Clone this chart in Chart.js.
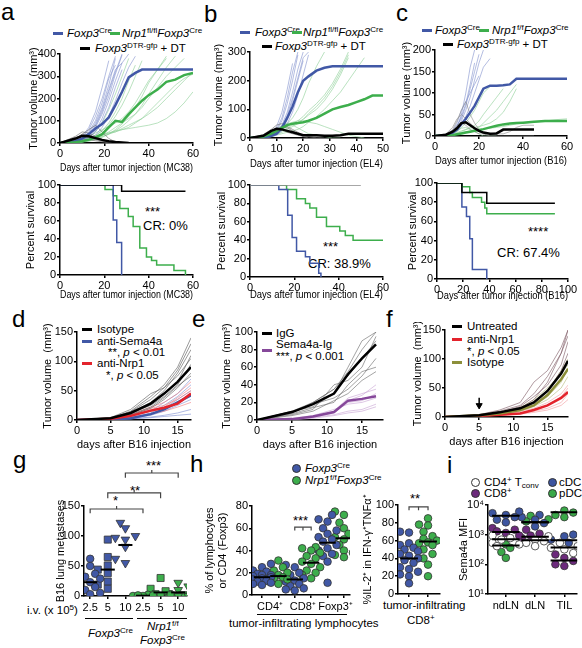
<!DOCTYPE html>
<html>
<head>
<meta charset="utf-8">
<script src="https://cdn.jsdelivr.net/npm/chart.js@4.4.1/dist/chart.umd.min.js"></script>
<style>
  body { margin: 0; width: 582px; height: 648px; position: relative; overflow: hidden; background: #fff;
         font-family: "Liberation Sans", Arial, Helvetica, sans-serif; color: #000; }
  canvas { position: absolute; }
  .t { position: absolute; white-space: nowrap; font-size: 11.5px; line-height: 13px; transform: translateY(-50%); }
  .big { font-size: 13px; }
  .p { position: absolute; font-size: 24px; line-height: 24px; }
  .s { position: absolute; height: 3px; width: 10px; margin-top: -1.5px; }
  .dot { position: absolute; width: 7px; height: 7px; border-radius: 50%; margin: -4px 0 0 -4px; border: 0.8px solid #333; }
  .u { position: absolute; height: 1px; background: #000; }
  sup, sub { font-size: 70%; line-height: 0; position: relative; vertical-align: baseline; }
  sup { top: -0.5em; } sub { top: 0.3em; }
</style>
</head>
<body>
<!-- panel letters -->
<div class="p" style="left:1px;top:0px">a</div>
<div class="p" style="left:204px;top:2px">b</div>
<div class="p" style="left:396px;top:1px">c</div>
<div class="p" style="left:12px;top:307px">d</div>
<div class="p" style="left:192px;top:307px">e</div>
<div class="p" style="left:386px;top:307px">f</div>
<div class="p" style="left:13px;top:448px">g</div>
<div class="p" style="left:190px;top:452px">h</div>
<div class="p" style="left:447px;top:453px">i</div>

<!-- legends a, b, c -->
<div class="s" style="left:53px;top:33px;background:#4158a6"></div>
<div class="t" style="left:67px;top:33px"><i>Foxp3</i><sup>Cre</sup></div>
<div class="s" style="left:110px;top:33px;background:#3dae4c"></div>
<div class="t" style="left:122px;top:33px"><i>Nrp1</i><sup>fl/fl</sup><i>Foxp3</i><sup>Cre</sup></div>
<div class="s" style="left:80px;top:48px;background:#000"></div>
<div class="t" style="left:95px;top:48px"><i>Foxp3</i><sup>DTR-gfp</sup> + DT</div>

<div class="s" style="left:240px;top:32px;background:#4158a6"></div>
<div class="t" style="left:255px;top:32px"><i>Foxp3</i><sup>Cre</sup></div>
<div class="s" style="left:292px;top:32px;background:#3dae4c"></div>
<div class="t" style="left:303px;top:32px"><i>Nrp1</i><sup>fl/fl</sup><i>Foxp3</i><sup>Cre</sup></div>
<div class="s" style="left:262px;top:46px;background:#000"></div>
<div class="t" style="left:275px;top:46px"><i>Foxp3</i><sup>DTR-gfp</sup> + DT</div>

<div class="s" style="left:422px;top:30px;background:#4158a6"></div>
<div class="t" style="left:435px;top:30px"><i>Foxp3</i><sup>Cre</sup></div>
<div class="s" style="left:479px;top:30px;background:#3dae4c"></div>
<div class="t" style="left:492px;top:30px"><i>Nrp1</i><sup>f/f</sup><i>Foxp3</i><sup>Cre</sup></div>
<div class="s" style="left:443px;top:44px;background:#000"></div>
<div class="t" style="left:457px;top:44px"><i>Foxp3</i><sup>DTR-gfp</sup> + DT</div>

<!-- survival notes -->
<div class="t big" style="left:145px;top:211px">***</div>
<div class="t big" style="left:143px;top:225px">CR: 0%</div>
<div class="t big" style="left:323px;top:246px">***</div>
<div class="t big" style="left:308px;top:263px">CR: 38.9%</div>
<div class="t big" style="left:528px;top:231px">****</div>
<div class="t big" style="left:497px;top:252px">CR: 67.4%</div>

<!-- legends d, e, f -->
<div class="s" style="left:82px;top:329px;background:#000"></div>
<div class="t" style="left:97px;top:329px">Isotype</div>
<div class="s" style="left:82px;top:341px;background:#4158a6"></div>
<div class="t" style="left:97px;top:341px">anti-Sema4a</div>
<div class="t" style="left:108px;top:352px">**, <i>p</i> &lt; 0.01</div>
<div class="s" style="left:82px;top:363px;background:#e3232c"></div>
<div class="t" style="left:97px;top:363px">anti-Nrp1</div>
<div class="t" style="left:106px;top:375px">*, <i>p</i> &lt; 0.05</div>

<div class="s" style="left:262px;top:333px;background:#000"></div>
<div class="t" style="left:276px;top:333px">IgG</div>
<div class="s" style="left:262px;top:350px;background:#86489a"></div>
<div class="t" style="left:276px;top:344px">Sema4a-Ig</div>
<div class="t" style="left:276px;top:356px">***, <i>p</i> &lt; 0.001</div>

<div class="s" style="left:452px;top:326px;background:#000"></div>
<div class="t" style="left:467px;top:326px">Untreated</div>
<div class="s" style="left:452px;top:339px;background:#e3232c"></div>
<div class="t" style="left:467px;top:339px">anti-Nrp1</div>
<div class="t" style="left:467px;top:351px">*, <i>p</i> &lt; 0.05</div>
<div class="s" style="left:452px;top:362px;background:#8c8f3a"></div>
<div class="t" style="left:467px;top:362px">Isotype</div>

<!-- g labels -->
<div class="t big" style="left:113px;top:500px">*</div>
<div class="t big" style="left:130px;top:490px">**</div>
<div class="t big" style="left:146px;top:465px">***</div>
<div class="t" style="left:27px;top:610px">i.v. (x 10<sup>5</sup>)</div>
<div class="u" style="left:85px;top:618px;width:48px"></div>
<div class="u" style="left:137px;top:618px;width:50px"></div>
<div class="t" style="left:88px;top:633px"><i>Foxp3</i><sup>Cre</sup></div>
<div class="t" style="left:147px;top:626px"><i>Nrp1</i><sup>f/f</sup></div>
<div class="t" style="left:140px;top:640px"><i>Foxp3</i><sup>Cre</sup></div>

<!-- h labels -->
<div class="dot" style="left:296px;top:468px;background:#4158a6"></div>
<div class="t" style="left:305px;top:468px"><i>Foxp3</i><sup>Cre</sup></div>
<div class="dot" style="left:296px;top:480px;background:#3dae4c"></div>
<div class="t" style="left:305px;top:480px"><i>Nrp1</i><sup>f/f</sup><i>Foxp3</i><sup>Cre</sup></div>
<div class="t big" style="left:293px;top:520px">***</div>
<div class="u" style="left:257px;top:614px;width:90px"></div>
<div class="t" style="left:229px;top:623px">tumor-infiltrating lymphocytes</div>
<div class="t big" style="left:410px;top:498px">**</div>
<div class="t" style="left:383px;top:605px">tumor-infiltrating</div>
<div class="t" style="left:407px;top:620px">CD8<sup>+</sup></div>

<!-- i legend -->
<div class="dot" style="left:475px;top:482px;background:#fff"></div>
<div class="t" style="left:484px;top:482px">CD4<sup>+</sup> T<sub>conv</sub></div>
<div class="dot" style="left:552px;top:482px;background:#3d55a0"></div>
<div class="t" style="left:559px;top:482px">cDC</div>
<div class="dot" style="left:475px;top:493px;background:#6c2a7c"></div>
<div class="t" style="left:484px;top:493px">CD8<sup>+</sup></div>
<div class="dot" style="left:552px;top:493px;background:#3aa848"></div>
<div class="t" style="left:559px;top:493px">pDC</div>

<script>
// ---------- data ----------
// a: MC38 tumor growth
var aDays = [0, 7, 10, 13, 16, 19, 22, 25, 28, 31, 34, 37, 40, 44, 48, 52, 56, 60];
var aCreMean = [0, 8, 20, 40, 65, 85, 115, 170, 230, 295, 315, 330, 330, 330, 330, 330, 330, 330];
var aNrpMean = [0, 3, 8, 15, 25, 40, 70, 100, 95, 130, 160, 190, 215, 240, 275, 285, 305, 315];
var aDtrMean = [0, 20, 32, 30, 22, 14, 8, 4, 2, 0];
var aCre = [
  [0, 5, 20, 45, 90, 160, 260, 380],
  [0, 8, 25, 60, 120, 200, 300, 390],
  [0, 3, 10, 30, 70, 130, 210, 310, 395],
  [0, 5, 15, 40, 80, 150, 240, 330, 360],
  [0, 2, 8, 25, 55, 110, 190, 280, 360, 400],
  [0, 10, 30, 70, 140, 250, 370],
  [0, 4, 12, 35, 75, 140, 230, 320, 400],
  [0, 6, 18, 50, 100, 180, 290, 350],
  [0, 2, 6, 15, 35, 70, 120, 190, 270, 340, 390],
  [0, 3, 9, 22, 50, 95, 160, 250, 330]
];
var aNrp = [
  [0, 3, 10, 25, 50, 90, 150, 220, 300, 380],
  [0, 2, 6, 15, 30, 55, 80, 120, 170, 230, 300, 370],
  [0, 5, 12, 30, 45, 60, 75, 90, 110, 140, 180, 230, 280, 330, 390],
  [0, 2, 5, 10, 20, 35, 50, 70, 90, 110, 130, 160, 200, 250, 300, 340, 380],
  [0, 3, 8, 18, 35, 55, 90, 140, 200, 280, 350],
  [0, 4, 10, 20, 30, 40, 45, 50, 60, 70, 90, 110, 140, 180, 220, 260, 290, 310],
  [0, 2, 4, 8, 15, 25, 40, 60, 85, 120, 160, 210, 270, 330, 380],
  [0, 3, 6, 12, 20, 30, 40, 50, 65, 80, 95, 110, 130, 160, 200, 240, 280, 320],
  [0, 2, 5, 10, 18, 28, 40, 55, 75, 100, 130, 170, 220, 280, 340, 390],
  [0, 4, 9, 16, 25, 35, 45, 55, 60, 65, 70, 75, 80, 90, 110, 140, 180, 230]
];
var aDtr = [
  [0, 20, 40, 60, 80, 50, 20, 5, 0],
  [0, 15, 30, 25, 15, 8, 3, 0],
  [0, 30, 50, 45, 30, 15, 5, 0],
  [0, 10, 20, 15, 10, 5, 0],
  [0, 25, 35, 40, 20, 10, 2, 0]
];

// b: EL4 tumor growth
var bDays = [0, 5, 8, 10, 12, 14, 16, 18, 20, 22, 25, 28, 31, 34, 37, 40, 43, 46, 50];
var bCreMean = [0, 2, 8, 15, 35, 70, 110, 160, 200, 215, 235, 245, 250, 250, 250, 250, 250, 250, 250];
var bNrpMean = [0, 5, 15, 25, 35, 45, 50, 52, 55, 60, 70, 85, 100, 108, 115, 125, 135, 148, 148];
var bDtrMean = [0, 8, 25, 32, 30, 25, 20, 15, 10, 10, 10, 8, 8, 10, 15, 15, 15, 15, 15];
var bCre = [
  [0, 2, 10, 25, 60, 120, 200, 290],
  [0, 3, 8, 20, 45, 90, 160, 240, 300],
  [0, 1, 5, 15, 35, 70, 130, 200, 270],
  [0, 4, 15, 40, 90, 170, 260],
  [0, 2, 6, 18, 40, 80, 140, 210, 280, 300],
  [0, 1, 4, 10, 25, 50, 90, 150, 220, 290],
  [0, 3, 12, 30, 70, 140, 230, 300]
];
var bNrp = [
  [0, 3, 10, 20, 35, 50, 70, 100, 140, 190, 250, 300],
  [0, 2, 8, 15, 25, 35, 45, 55, 65, 80, 100, 130, 170, 220, 280],
  [0, 4, 12, 25, 40, 50, 55, 60, 60, 55, 50, 40, 30, 20, 10, 5, 0],
  [0, 2, 6, 12, 20, 30, 40, 50, 65, 85, 110, 140, 180, 230, 290],
  [0, 5, 15, 30, 45, 50, 45, 35, 25, 15, 10, 5, 0, 0],
  [0, 3, 8, 18, 30, 40, 50, 60, 75, 95, 120, 150, 190, 240, 300],
  [0, 2, 5, 10, 15, 20, 25, 30, 40, 55, 75, 100, 130, 160, 200, 240, 280]
];
var bDtr = [
  [0, 10, 25, 35, 30, 20, 15, 10, 5, 0],
  [0, 8, 20, 30, 40, 35, 25, 15, 10, 5, 0],
  [0, 12, 30, 45, 50, 40, 30, 20, 10, 5, 3, 0]
];

// c: B16 tumor growth
var cDays = [0, 5, 8, 10, 12, 14, 16, 18, 20, 22, 25, 28, 31, 34, 37, 40, 45, 50, 55, 60];
var cCreMean = [0, 2, 8, 15, 28, 40, 55, 70, 90, 110, 117, 117, 118, 120, 133, 133, 133, 133, 133, 133];
var cNrpMean = [0, 1, 2, 4, 6, 8, 10, 12, 14, 16, 20, 24, 27, 29, 30, 31, 33, 35, 35, 35];
var cDtrMean = [0, 3, 10, 18, 30, 32, 25, 18, 12, 8, 5, 6, 15, 15, 15, 15, 15];
var cCre = [
  [0, 2, 8, 20, 50, 100, 160, 200],
  [0, 3, 10, 25, 40, 70, 110, 150, 190],
  [0, 1, 5, 15, 35, 60, 90, 130, 170, 200],
  [0, 4, 12, 30, 60, 80, 100, 120, 140],
  [0, 2, 6, 12, 25, 45, 70, 100, 130, 160, 180],
  [0, 3, 9, 22, 45, 75, 120, 170]
];
var cNrp = [
  [0, 2, 5, 10, 20, 30, 45, 60, 80, 100, 115],
  [0, 1, 3, 6, 10, 15, 20, 25, 35, 50, 70, 90, 110],
  [0, 2, 4, 8, 12, 15, 18, 20, 22, 25, 30, 40, 55, 80, 110],
  [0, 1, 2, 4, 6, 8, 10, 12, 14, 16, 18, 20, 22, 25, 28, 30, 32, 35, 38, 40],
  [0, 2, 6, 12, 18, 20, 15, 10, 5, 0, 0, 0],
  [0, 1, 3, 5, 8, 10, 12, 15, 20, 30, 45, 60, 80, 100, 120]
];
var cDtr = [
  [0, 3, 15, 35, 60, 80, 50, 30, 15, 5, 0, 0, 0, 0, 0, 0, 0],
  [0, 5, 20, 40, 50, 40, 30, 20, 10, 8, 5, 5, 5, 10, 20, 25, 25],
  [0, 2, 10, 25, 30, 25, 15, 10, 5, 5, 5, 8, 12, 15, 15, 15]
];

// survival (days, percent)
var saCreX = [0, 24, 25.6, 27.8], saCreY = [100, 61, 36, 0];
var saNrpX = [0, 20.3, 24, 25.6, 27, 30.8, 33, 36, 39, 41.3, 43.6, 51.4, 56.6];
var saNrpY = [100, 95, 88, 83, 74, 65, 54, 30, 20, 16, 11, 5, 0];
var saDtrX = [0, 27.8, 56.6], saDtrY = [100, 93, 93];
var sbCreX = [0, 13, 17, 19, 21, 25, 27, 31, 32], sbCreY = [100, 95, 67, 43, 28, 22, 15, 4, 0];
var sbNrpX = [0, 16.5, 21, 25, 27, 30, 34.5, 40.5, 43, 46.5, 60];
var sbNrpY = [100, 95, 85, 80, 75, 65, 55, 50, 45, 40, 40];
var sbDtrX = [0, 50], sbDtrY = [100, 100];
var scCreX = [0, 19, 22.5, 25, 27, 38], scCreY = [100, 75, 65, 42, 10, 0];
var scNrpX = [0, 19, 25, 27, 34, 36.5, 38, 90], scNrpY = [100, 96, 90, 85, 80, 74, 68, 68];
var scDtrX = [0, 19, 38, 90], scDtrY = [100, 90, 79, 79];

// d: anti-Sema4a / anti-Nrp1
var dDays = [0, 5, 8, 11, 13, 15, 17];
var dIsoMean = [0, 3, 12, 28, 45, 65, 90];
var dSemaMean = [0, 1, 3, 10, 18, 30, 42];
var dNrpMean = [0, 2, 7, 16, 21, 28, 45];
var dIso = [[0, 3, 15, 40, 60, 90, 140], [0, 2, 10, 30, 50, 80, 120], [0, 4, 18, 45, 55, 75, 105],
  [0, 3, 12, 25, 40, 60, 95], [0, 2, 8, 20, 35, 55, 80], [0, 3, 14, 35, 55, 85, 130],
  [0, 2, 9, 22, 38, 58, 75], [0, 3, 12, 30, 45, 65, 110]];
var dSema = [[0, 1, 4, 12, 25, 40, 60], [0, 1, 3, 8, 15, 25, 35], [0, 2, 6, 15, 30, 45, 70],
  [0, 1, 2, 5, 8, 12, 18], [0, 1, 3, 10, 20, 35, 50], [0, 0, 2, 4, 6, 8, 10]];
var dNrp = [[0, 2, 8, 20, 25, 35, 50], [0, 2, 6, 15, 18, 30, 45], [0, 3, 10, 22, 30, 45, 65],
  [0, 1, 5, 10, 15, 22, 30], [0, 2, 7, 18, 22, 38, 55]];

// e: Sema4a-Ig
var eDays = [0, 5, 8, 11, 13, 15, 17];
var eIggMean = [0, 9, 18, 30, 52, 70, 86];
var eSemaMean = [0, 1, 4, 9, 22, 24, 27];
var eIgg = [[0, 8, 20, 35, 55, 80, 100], [0, 10, 15, 30, 60, 90, 100], [0, 6, 12, 40, 45, 60, 95],
  [0, 9, 18, 25, 35, 50, 70], [0, 7, 14, 20, 40, 55, 60], [0, 10, 20, 35, 50, 70, 90],
  [0, 5, 10, 22, 30, 45, 55]];
var eSema = [[0, 1, 4, 10, 25, 30, 35], [0, 1, 3, 8, 20, 22, 30], [0, 2, 5, 12, 18, 20, 25],
  [0, 0, 2, 5, 8, 10, 15], [0, 1, 4, 9, 22, 28, 40], [0, 1, 3, 6, 10, 12, 18]];

// f: anti-Nrp1 from day 5
var fDays = [0, 5, 8, 11, 13, 15, 17, 18];
var fUnMean = [0, 3, 8, 15, 25, 45, 75, 97];
var fIsoMean = [0, 3, 6, 12, 20, 38, 65, 83];
var fNrpMean = [0, 2, 4, 6, 12, 20, 33, 43];
var fUn = [[0, 3, 8, 15, 30, 60, 110, 150], [0, 3, 10, 20, 40, 70, 110, 140], [0, 2, 6, 12, 25, 45, 80, 110],
  [0, 4, 12, 25, 60, 80, 120, 150], [0, 3, 8, 18, 35, 55, 90, 130]];
var fIso = [[0, 3, 7, 14, 25, 45, 80, 100], [0, 2, 6, 12, 20, 35, 60, 85], [0, 3, 8, 16, 30, 50, 75, 90],
  [0, 2, 5, 10, 18, 30, 50, 70]];
var fNrp = [[0, 2, 4, 8, 12, 20, 35, 50], [0, 2, 3, 6, 10, 15, 25, 40], [0, 2, 5, 10, 15, 25, 40, 55],
  [0, 1, 3, 5, 8, 12, 20, 30]];
var fArrowDay = 5, fArrowFrom = 33, fArrowTo = 17;

// g: B16 lung metastases
var gLabels = ['2.5', '5', '10', '2.5', '5', '10'];
var gCre25 = [62, 50, 37, 32, 29, 23, 18, 15, 10, 5, 4, 3];
var gCre5 = [94, 65, 51, 44, 38, 24, 19, 12];
var gCre10 = [122, 113, 100, 97, 94, 82, 62, 55];
var gNrp25 = [2, 1, 0, 0, 1];
var gNrp5 = [30, 12, 8, 3, 1, 0, 0];
var gNrp10 = [22, 16, 10, 5, 3, 1, 0, 0, 0];
var gMeans = [23, 44, 85, 0.5, 6, 6];
var gBrackets = [[1, 4, 145, 7], [2, 5, 172, 9], [3, 6, 205, 8]];

// h: tumor-infiltrating lymphocytes
var hLabels = ['CD4⁺', '', 'CD8⁺', '', 'Foxp3⁺', ''];
var hCd4Cre = [28, 25, 22, 21, 19, 18, 18, 17, 16, 15, 14, 13, 12, 11, 10, 9];
var hCd4Nrp = [31, 25, 22, 20, 18, 17, 16, 15, 14, 12, 10];
var hCd8Cre = [27, 25, 20, 18, 15, 13, 12, 10, 8, 6, 5, 4];
var hCd8Nrp = [43, 42, 40, 38, 35, 33, 30, 28, 25, 22, 20, 18, 15];
var hFoxCre = [72, 68, 66, 60, 58, 55, 52, 50, 48, 45, 42, 40, 37, 35, 30, 11];
var hFoxNrp = [75, 72, 65, 60, 55, 52, 50, 45, 40, 38, 36, 34];
var hMeans = [16, 17, 14, 29, 47, 51];
var h2Cre = [70, 69, 57, 55, 52, 50, 48, 45, 43, 40, 38, 35, 30, 28, 25, 22, 20, 12];
var h2Nrp = [85, 78, 77, 70, 65, 62, 60, 58, 57, 55, 50, 45, 40, 33, 20];
var h2Means = [40, 59];

// i: Sema4a MFI (ndLN, dLN, TIL)
var iLabels = ['ndLN', 'dLN', 'TIL'];
var iCd4 = [[930, 770, 680, 530, 470, 410], [880, 680, 600, 530, 410], [530, 410, 360, 320, 240]];
var iCd8 = [[1660, 1470, 1290, 1140, 930], [1470, 1080, 930, 770], [215, 165, 130, 100, 88]];
var iCdc = [[6000, 5300, 4600, 3900, 3200, 2600], [4600, 3900, 3200, 2450, 1900], [1000, 880, 680, 530]];
var iPdc = [[470, 360, 260, 165], [4300, 3300, 2800], [6500, 5550, 4600, 3900]];
var iCd4Mean = [700, 650, 370];
var iCd8Mean = [1230, 850, 135];
var iCdcMean = [4300, 2600, 650];
var iPdcMean = [430, 2600, 5700];

// ---------- helpers ----------
var F = '"Liberation Sans", Arial, Helvetica, sans-serif';
Chart.defaults.font.family = F;
Chart.defaults.color = '#000';
var BLUE = '#4158a6', GREEN = '#3dae4c', RED = '#e3232c', PURPLE = '#86489a', OLIVE = '#8c8f3a';

function pts(xs, ys) {
  return ys.map(function (v, i) { return { x: xs[i], y: v }; });
}

function line(xs, ys, color, width, extra) {
  return Object.assign({
    type: 'line', data: pts(xs, ys), borderColor: color, borderWidth: width,
    pointRadius: 0, fill: false, tension: 0
  }, extra || {});
}

function thin(days, list, color) {
  return list.map(function (v) { return line(days, v, color, 0.6); });
}

function ax(min, max, step, title, extra) {
  var o = {
    type: 'linear', min: min, max: max,
    border: { display: true, color: '#000', width: 1.5 },
    grid: { drawOnChartArea: false, drawTicks: true, tickLength: 3, color: '#000', lineWidth: 1.5 },
    ticks: { stepSize: step, color: '#000', font: { size: 11 }, padding: 1, maxRotation: 0,
             autoSkip: false, includeBounds: false },
    title: { display: !!title, text: title, color: '#000', font: { size: 11 }, padding: 0 }
  };
  return Object.assign(o, extra || {});
}

function fixed(list) {
  return function (s) { s.ticks = list.map(function (v) { return { value: v }; }); };
}

function makeChart(box, m, datasets, xs, ys) {
  var c = document.createElement('canvas');
  var w = box[2] - box[0] + m[0] + m[2], h = box[3] - box[1] + m[1] + m[3];
  c.width = w; c.height = h;
  c.style.left = (box[0] - m[0]) + 'px';
  c.style.top = (box[1] - m[1]) + 'px';
  document.body.appendChild(c);
  xs.afterFit = function (s) {
    s.height = m[3];
    s.paddingLeft = s.paddingRight = s.paddingTop = s.paddingBottom = 0;
  };
  ys.afterFit = function (s) {
    s.width = m[0];
    s.paddingLeft = s.paddingRight = s.paddingTop = s.paddingBottom = 0;
  };
  return new Chart(c, {
    type: 'scatter',
    data: { datasets: datasets },
    options: {
      responsive: false, animation: false,
      layout: { padding: { top: m[1], right: m[2], left: 0, bottom: 0 } },
      plugins: { legend: { display: false }, tooltip: { enabled: false } },
      scales: { x: xs, y: ys }
    }
  });
}

// simple beeswarm: spreads points sideways when they would overlap
function swarm(vals, cx, pxY, pxX, step, maxK, log) {
  var placed = [], out = [];
  var order = vals.map(function (v, i) { return i; }).sort(function (a, b) { return vals[a] - vals[b]; });
  var ks = [0];
  for (var k = 1; k <= maxK; k++) { ks.push(-k, k); }
  order.forEach(function (i) {
    var yp = (log ? Math.log10(vals[i]) : vals[i]) * pxY;
    var best = 0, bestHit = Infinity;
    ks.some(function (k) {
      var xp = k * step, hit = 0;
      placed.forEach(function (p) {
        var dx = p.xp - xp, dy = p.yp - yp, d = Math.sqrt(dx * dx + dy * dy);
        if (d < 7) hit += 7 - d;
      });
      if (hit < bestHit) { bestHit = hit; best = xp; }
      return hit === 0;
    });
    placed.push({ xp: best, yp: yp });
    out[i] = { x: cx + best / pxX, y: vals[i] };
  });
  return out;
}

function dots(data, fill, style, radius, rot) {
  return { data: data, backgroundColor: fill, borderColor: '#333', borderWidth: 0.8,
           pointStyle: style, pointRadius: radius, rotation: rot || 0, showLine: false };
}

function meanLine(cx, half, v) {
  return { data: [{ x: cx - half, y: v }, { x: cx + half, y: v }], showLine: true,
           borderColor: '#000', borderWidth: 2, pointRadius: 0 };
}

function bracket(x1, x2, y, leg, mid) {
  var xm = (x1 + x2) / 2;
  return [
    { data: [{ x: x1, y: y - leg }, { x: x1, y: y }, { x: x2, y: y }, { x: x2, y: y - leg }],
      showLine: true, borderColor: '#444', borderWidth: 1.2, pointRadius: 0, clip: false },
    { data: [{ x: xm, y: y }, { x: xm, y: y + mid }],
      showLine: true, borderColor: '#444', borderWidth: 1.2, pointRadius: 0, clip: false }
  ];
}

// ---------- a, b, c: tumor growth ----------
var TV = 'Tumor volume (mm³)';
makeChart([60, 54, 193, 143], [33, 10, 12, 32],
  [line(aDays, aDtrMean, '#000', 2.5), line(aDays, aNrpMean, GREEN, 2.5), line(aDays, aCreMean, BLUE, 2.5)]
    .concat(thin(aDays, aDtr, '#666'), thin(aDays, aCre, '#8190cc'), thin(aDays, aNrp, '#8ccf95')),
  ax(0, 60, 20, 'Days after tumor injection (MC38)'), ax(0, 400, 100, TV));

makeChart([250, 52, 383, 138], [38, 10, 12, 33],
  [line(bDays, bDtrMean, '#000', 2.5), line(bDays, bNrpMean, GREEN, 2.5), line(bDays, bCreMean, BLUE, 2.5)]
    .concat(thin(bDays, bDtr, '#666'), thin(bDays, bCre, '#8190cc'), thin(bDays, bNrp, '#8ccf95')),
  ax(0, 50, 10, 'Days after tumor injection (EL4)'), ax(0, 300, 100, TV));

makeChart([435, 50, 567, 136], [35, 10, 12, 32],
  [line(cDays, cDtrMean, '#000', 2.5), line(cDays, cNrpMean, GREEN, 2.5), line(cDays, cCreMean, BLUE, 2.5)]
    .concat(thin(cDays, cDtr, '#888'), thin(cDays, cCre, '#8190cc'), thin(cDays, cNrp, '#8ccf95')),
  ax(0, 60, 20, 'Days after tumor injection (B16)'), ax(0, 200, 50, TV));

// ---------- survival ----------
var ST = { stepped: true };
makeChart([60, 185, 193, 275], [36, 8, 12, 27],
  [line(saDtrX, saDtrY, '#000', 1.5, ST), line(saCreX, saCreY, BLUE, 1.5, ST), line(saNrpX, saNrpY, GREEN, 1.5, ST)],
  ax(0, 60, 20, 'Days after tumor injection (MC38)'), ax(0, 100, 20, 'Percent survival'));

makeChart([250, 185, 383, 277], [35, 8, 12, 25],
  [line(sbDtrX, sbDtrY, '#8a8a8a', 1.5, ST), line(sbCreX, sbCreY, BLUE, 1.5, ST), line(sbNrpX, sbNrpY, GREEN, 1.5, ST)],
  ax(0, 60, 20, 'Days after tumor injection (EL4)'), ax(0, 100, 20, 'Percent survival'));

makeChart([437, 183, 568, 279], [31, 8, 12, 24],
  [line(scDtrX, scDtrY, '#000', 1.5, ST), line(scNrpX, scNrpY, GREEN, 1.5, ST), line(scCreX, scCreY, BLUE, 1.5, ST)],
  ax(0, 100, 20, 'Days after tumor injection (B16)'), ax(0, 100, 20, 'Percent survival'));

// ---------- d, e, f ----------
var TV2 = 'Tumor volume  (mm³)', DB = 'days after B16 injection';
makeChart([77, 332, 191, 420], [36, 8, 10, 32],
  [line(dDays, dIsoMean, '#000', 2.5), line(dDays, dNrpMean, RED, 2.5), line(dDays, dSemaMean, BLUE, 2.5)]
    .concat(thin(dDays, dIso, '#555'), thin(dDays, dNrp, '#ee7c82'), thin(dDays, dSema, '#7b8cd0')),
  ax(0, 17, 5, DB), ax(0, 150, 50, TV2));

makeChart([257, 332, 383, 420], [37, 8, 10, 32],
  [line(eDays, eIggMean, '#000', 2.5), line(eDays, eSemaMean, PURPLE, 2.5)]
    .concat(thin(eDays, eIgg, '#666'), thin(eDays, eSema, '#c8a2d4')),
  ax(0, 18, 5, DB), ax(0, 100, 20, TV2));

makeChart([445, 330, 568, 417], [34, 8, 10, 32],
  [line(fDays, fUnMean, '#000', 2.5), line(fDays, fIsoMean, OLIVE, 2.5), line(fDays, fNrpMean, RED, 2.5),
   line([fArrowDay, fArrowDay], [fArrowFrom, fArrowTo + 4], '#000', 1.5),
   { data: [{ x: fArrowDay, y: fArrowTo + 3 }], pointStyle: 'triangle', rotation: 180, pointRadius: 3.5,
     backgroundColor: '#000', borderColor: '#000' }]
    .concat(thin(fDays, fUn, '#7a5560'), thin(fDays, fIso, '#b5b878'), thin(fDays, fNrp, '#f29a9e')),
  ax(0, 18, 5, DB), ax(0, 150, 50, TV2));

// ---------- g ----------
var gGroups = [gCre25, gCre5, gCre10, gNrp25, gNrp5, gNrp10];
var gStyles = ['circle', 'rect', 'triangle', 'circle', 'rect', 'triangle'];
var gSets = [];
gMeans.forEach(function (v, i) { gSets.push(meanLine(i + 1, 0.4, v)); });
gBrackets.forEach(function (b) { gSets = gSets.concat(bracket(b[0], b[1], b[2], b[3], 5)); });
gGroups.forEach(function (vals, i) {
  var col = i < 3 ? BLUE : GREEN;
  var r = gStyles[i] === 'circle' ? 3.8 : 5;
  gSets.push(dots(swarm(vals, i + 1, 0.6, 17.6, 5, 2), col, gStyles[i], r, gStyles[i] === 'triangle' ? 180 : 0));
});
makeChart([84, 506, 187, 596], [30, 52, 6, 20], gSets,
  ax(0.65, 6.5, 1, '', { afterBuildTicks: fixed([1, 2, 3, 4, 5, 6]),
    ticks: { color: '#000', font: { size: 11 }, padding: 2, autoSkip: false, maxRotation: 0,
             callback: function (v) { return gLabels[v - 1]; } } }),
  ax(0, 150, 50, 'B16 lung metastases'));

// ---------- h ----------
var hGroups = [hCd4Cre, hCd4Nrp, hCd8Cre, hCd8Nrp, hFoxCre, hFoxNrp];
var hSets = [];
hMeans.forEach(function (v, i) { hSets.push(meanLine(i + 1, 0.5, v)); });
hSets = hSets.concat(bracket(3, 4, 61, 3, -3));
hGroups.forEach(function (vals, i) {
  hSets.push(dots(swarm(vals, i + 1, 1.11, 16.4, 4.5, 2), i % 2 ? GREEN : BLUE, 'circle', 3.8));
});
makeChart([252, 506, 350, 595], [49, 10, 6, 20], hSets,
  ax(0.39, 6.37, 1, '', { afterBuildTicks: fixed([1, 2, 3, 4, 5, 6]),
    ticks: { color: '#000', font: { size: 11 }, padding: 2, autoSkip: false, maxRotation: 0, labelOffset: 8,
             callback: function (v) { return hLabels[v - 1]; } } }),
  ax(0, 80, 20, ['% of lymphocytes', 'or CD4 (Foxp3)']));

var h2Sets = [meanLine(1, 0.47, h2Means[0]), meanLine(2, 0.47, h2Means[1])].concat(bracket(1, 2, 98, 4, -4));
h2Sets.push(dots(swarm(h2Cre, 1, 0.89, 19, 4.5, 2), BLUE, 'circle', 3.8));
h2Sets.push(dots(swarm(h2Nrp, 2, 0.89, 19, 4.5, 2), GREEN, 'circle', 3.8));
makeChart([398, 505, 440, 594], [37, 15, 6, 14], h2Sets,
  ax(0.42, 2.63, 1, '', { afterBuildTicks: fixed([1, 2]),
    ticks: { display: false } }),
  ax(0, 100, 20, '%IL-2⁺ in IFN-γ⁺TNFα⁺'));

// ---------- i ----------
var iSets = [];
var iTypes = [[iCd4, iCd4Mean, '#ffffff'], [iCd8, iCd8Mean, '#6c2a7c'], [iCdc, iCdcMean, '#3d55a0'], [iPdc, iPdcMean, '#3aa848']];
iTypes.forEach(function (t) { t[1].forEach(function (v, c) { iSets.push(meanLine(c + 1, 0.47, v)); }); });
[0, 1, 2].forEach(function (c) {
  var all = [], owner = [];
  iTypes.forEach(function (t, ti) { t[0][c].forEach(function (v) { all.push(v); owner.push(ti); }); });
  var p = swarm(all, c + 1, 29.7, 29.5, 4.5, 3, true);
  iTypes.forEach(function (t, ti) {
    iSets.push(dots(p.filter(function (q, k) { return owner[k] === ti; }), t[2], 'circle', 3.8));
  });
});
var SUP = { 10: '10¹', 100: '10²', 1000: '10³', 10000: '10⁴' };
makeChart([488, 505, 578, 594], [31, 10, 4, 20], iSets,
  ax(0.39, 3.44, 1, '', { afterBuildTicks: fixed([1, 2, 3]),
    ticks: { color: '#000', font: { size: 11 }, padding: 2, autoSkip: false, maxRotation: 0,
             callback: function (v) { return iLabels[v - 1]; } } }),
  ax(10, 10000, 1, 'Sema4a MFI', { type: 'logarithmic', afterBuildTicks: fixed([10, 100, 1000, 10000]),
    ticks: { color: '#000', font: { size: 11 }, padding: 1, autoSkip: false,
             callback: function (v) { return SUP[v]; } } }));
</script>
</body>
</html>
